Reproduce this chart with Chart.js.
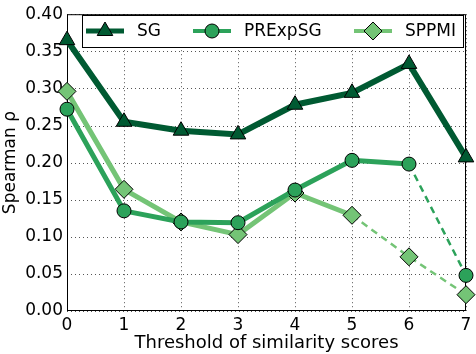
<!DOCTYPE html>
<html>
<head>
<meta charset="utf-8">
<script src="https://cdn.jsdelivr.net/npm/chart.js@4.4.1/dist/chart.umd.min.js"></script>
<style>
  html, body { margin: 0; padding: 0; background: #fff; }
  #wrap { width: 476px; height: 354px; }
</style>
</head>
<body>
<div id="wrap"><canvas id="chart" width="476" height="354"></canvas></div>
<script>
// values
const thresholds = [0, 1, 2, 3, 4, 5, 6, 7];
const sgValues = [0.365, 0.255, 0.243, 0.238, 0.278, 0.294, 0.333, 0.207];
const prexpValues = [0.272, 0.135, 0.120, 0.119, 0.163, 0.203, 0.198, 0.048];
const sppmiValues = [0.296, 0.164, 0.120, 0.103, 0.159, 0.129, 0.073, 0.022];
const yTicks = [0, 0.05, 0.10, 0.15, 0.20, 0.25, 0.30, 0.35, 0.40];

const SG_COLOR = '#005a32';
const PR_COLOR = '#2ca25a';
const SP_COLOR = '#74c476';

function pts(vals) {
    return vals.map((v, i) => ({ x: thresholds[i], y: v }));
}

// segments after this index are drawn dashed and thinner
function dashedFrom(start, width) {
    return {
        borderDash: ctx => ctx.p0DataIndex >= start ? [7, 5] : undefined,
        borderWidth: ctx => ctx.p0DataIndex >= start ? 2.5 : width
    };
}

const legendBox = {
    id: 'legendBox',
    afterDraw(chart) {
        const ctx = chart.ctx;
        const x0 = 82, y0 = 15, w = 381, h = 32;
        ctx.save();
        ctx.fillStyle = '#fff';
        ctx.strokeStyle = '#000';
        ctx.lineWidth = 1;
        ctx.fillRect(x0, y0, w, h);
        ctx.strokeRect(x0 + 0.5, y0 + 0.5, w, h);
        const items = [
            { x: 86, label: 'SG', color: SG_COLOR, lw: 5, style: 'triangle', r: 9 },
            { x: 193, label: 'PRExpSG', color: PR_COLOR, lw: 4, style: 'circle', r: 7 },
            { x: 354, label: 'SPPMI', color: SP_COLOR, lw: 4, style: 'rectRot', r: 9 }
        ];
        const cy = y0 + h / 2;
        items.forEach(it => {
            ctx.strokeStyle = it.color;
            ctx.lineWidth = it.lw;
            ctx.beginPath();
            ctx.moveTo(it.x, cy);
            ctx.lineTo(it.x + 38, cy);
            ctx.stroke();
            ctx.fillStyle = it.color;
            ctx.strokeStyle = '#000';
            ctx.lineWidth = 1;
            Chart.helpers.drawPoint(ctx, { pointStyle: it.style, radius: it.r, borderWidth: 1 }, it.x + 19, cy);
            ctx.fillStyle = '#000';
            ctx.font = '17px "DejaVu Sans"';
            ctx.textBaseline = 'middle';
            ctx.fillText(it.label, it.x + 51, cy + 1);
        });
        ctx.restore();
    }
};

// dotted grid from the scales' ticks, then the black frame
const frame = {
    id: 'frame',
    beforeDatasetsDraw(chart) {
        const a = chart.chartArea;
        const ctx = chart.ctx;
        const xs = chart.scales.x, ys = chart.scales.y;
        ctx.save();
        ctx.strokeStyle = '#555';
        ctx.lineWidth = 1;
        ctx.setLineDash([1, 3]);
        ctx.beginPath();
        thresholds.forEach(v => {
            const px = Math.round(xs.getPixelForValue(v)) + 0.5;
            ctx.moveTo(px, a.top);
            ctx.lineTo(px, a.bottom);
        });
        yTicks.forEach(v => {
            const py = Math.round(ys.getPixelForValue(v)) + 0.5;
            ctx.moveTo(a.left, py);
            ctx.lineTo(a.right, py);
        });
        ctx.stroke();
        ctx.setLineDash([]);
        ctx.strokeStyle = '#000';
        ctx.strokeRect(a.left + 0.5, a.top + 0.5, a.right - a.left - 1, a.bottom - a.top - 1);
        ctx.restore();
    }
};

const tickFont = { family: 'DejaVu Sans', size: 17 };
const hiddenGrid = { color: 'rgba(0,0,0,0)', tickLength: 0 };

new Chart(document.getElementById('chart'), {
    type: 'line',
    data: {
        datasets: [
            {
                label: 'SG',
                data: pts(sgValues),
                borderColor: SG_COLOR,
                backgroundColor: SG_COLOR,
                borderWidth: 6,
                pointStyle: 'triangle',
                pointRadius: 9,
                pointBorderColor: '#000',
                pointBorderWidth: 1
            },
            {
                label: 'PRExpSG',
                data: pts(prexpValues),
                borderColor: PR_COLOR,
                backgroundColor: PR_COLOR,
                borderWidth: 5,
                pointStyle: 'circle',
                pointRadius: 7,
                pointBorderColor: '#000',
                pointBorderWidth: 1,
                segment: dashedFrom(6, 5)
            },
            {
                label: 'SPPMI',
                data: pts(sppmiValues),
                borderColor: SP_COLOR,
                backgroundColor: SP_COLOR,
                borderWidth: 5,
                pointStyle: 'rectRot',
                pointRadius: 9,
                pointBorderColor: '#000',
                pointBorderWidth: 1,
                segment: dashedFrom(5, 5)
            }
        ]
    },
    options: {
        responsive: false,
        animation: false,
        clip: false,
        layout: { padding: { left: 0, right: 6, top: 8, bottom: 0 } },
        plugins: {
            legend: { display: false },
            tooltip: { enabled: false }
        },
        scales: {
            x: {
                type: 'linear',
                min: 0,
                max: 7,
                afterBuildTicks: s => { s.ticks = thresholds.map(v => ({ value: v })); },
                afterFit: s => { s.height = 43; },
                border: { display: false },
                grid: hiddenGrid,
                ticks: {
                    color: '#000',
                    font: tickFont,
                    padding: 4,
                    maxRotation: 0
                },
                title: {
                    display: true,
                    text: 'Threshold of similarity scores',
                    color: '#000',
                    font: { family: 'DejaVu Sans', size: 18 },
                    padding: 0
                }
            },
            y: {
                min: 0,
                max: 0.4,
                afterBuildTicks: s => { s.ticks = yTicks.map(v => ({ value: v })); },
                afterFit: s => { s.width = 67; },
                border: { display: false },
                grid: hiddenGrid,
                ticks: {
                    color: '#000',
                    font: tickFont,
                    padding: 4,
                    callback: v => v.toFixed(2)
                },
                title: {
                    display: true,
                    text: 'Spearman ρ',
                    color: '#000',
                    font: { family: 'DejaVu Sans', size: 17 },
                    padding: 0
                }
            }
        }
    },
    plugins: [frame, legendBox]
});
</script>
</body>
</html>
